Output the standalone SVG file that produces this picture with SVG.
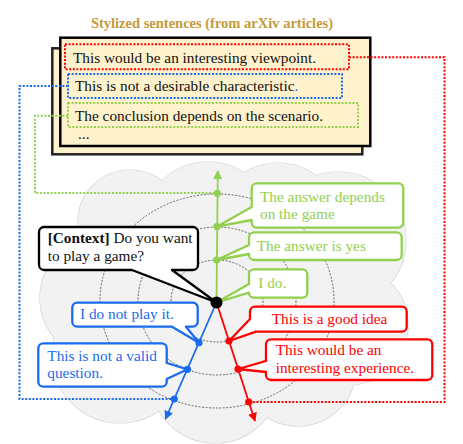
<svg xmlns="http://www.w3.org/2000/svg" xmlns:xlink="http://www.w3.org/1999/xlink" width="463" height="444" viewBox="0 0 463 444">
<style>
text{font-family:"Liberation Serif","Times New Roman",serif;font-size:15.3px}
.title{font-weight:bold;fill:#c49a3a;font-size:14.5px}
.card{fill:#fff2cc;stroke-width:2.5}
.dot{fill:none;stroke-width:2;stroke-dasharray:2 1.6}
.ell{fill:none;stroke:#555;stroke-width:0.9;stroke-dasharray:2 1.5}
.co{fill:#fff;stroke-width:2.3;stroke-linejoin:round}
.g{stroke:#92d050}.gt{fill:#92d050}
.b{stroke:#1a6bf0}.bt{fill:#1a6bf0}
.r{stroke:#ff0000}.rt{fill:#ff0000}
.k{stroke:#000}.kt{fill:#111}
.ax{fill:none;stroke-width:1.8}
</style>
<defs>
<g id="cloudShapes">
<circle cx="130" cy="222" r="52"/>
<circle cx="208" cy="228" r="66"/>
<circle cx="278" cy="226" r="63"/>
<circle cx="338" cy="240" r="68"/>
<circle cx="348" cy="325" r="60"/>
<circle cx="298" cy="368" r="58"/>
<circle cx="215" cy="378" r="65"/>
<circle cx="120" cy="355" r="68"/>
<circle cx="102" cy="298" r="62"/>
<circle cx="220" cy="300" r="100"/>
</g>
<marker id="ahG" viewBox="0 0 10 10" refX="9" refY="5" markerWidth="9" markerHeight="9" markerUnits="userSpaceOnUse" orient="auto"><path d="M0,0 L10,5 L0,10 Z" fill="#92d050"/></marker>
<marker id="ahB" viewBox="0 0 10 10" refX="9" refY="5" markerWidth="9" markerHeight="9" markerUnits="userSpaceOnUse" orient="auto"><path d="M0,0 L10,5 L0,10 Z" fill="#1a6bf0"/></marker>
<marker id="ahR" viewBox="0 0 10 10" refX="9" refY="5" markerWidth="9" markerHeight="9" markerUnits="userSpaceOnUse" orient="auto"><path d="M0,0 L10,5 L0,10 Z" fill="#ff0000"/></marker>
</defs>

<g id="cloud">
<use xlink:href="#cloudShapes" href="#cloudShapes" fill="none" stroke="#d4d4d4" stroke-width="1.2"/>
<use xlink:href="#cloudShapes" href="#cloudShapes" fill="#f2f2f2" stroke="none"/>
</g>

<g id="rings">
<ellipse class="ell" cx="217" cy="301" rx="46" ry="41"/>
<ellipse class="ell" cx="217" cy="301" rx="79" ry="74"/>
<ellipse class="ell" cx="217" cy="301" rx="117" ry="107"/>
</g>

<g id="title"><text class="title" x="212" y="27.5" text-anchor="middle">Stylized sentences (from arXiv articles)</text></g>

<g id="cards">
<rect class="card" x="52.3" y="48.3" width="310" height="106" stroke="#222"/>
<rect class="card" x="60.3" y="37.7" width="310" height="108.3" stroke="#000"/>
<g id="sentence-red">
<rect class="dot r" x="65" y="44.3" width="284" height="25"/>
<text x="73" y="63.3" class="kt">This would be an interesting viewpoint.</text>
</g>
<g id="sentence-blue">
<rect class="dot b" x="68" y="74" width="274" height="24"/>
<text x="75" y="91" class="kt">This is not a desirable characteristic<tspan class="bt">.</tspan></text>
</g>
<g id="sentence-green">
<rect class="dot g" x="68" y="103" width="290" height="24"/>
<text x="75" y="120.7" class="kt">The conclusion depends on the scenario.</text>
</g>
<text x="78" y="138.5" class="kt" font-size="14px">...</text>
</g>

<g id="connectors">
<path class="dot r" d="M349,57.3 H444.5 V402 H249"/>
<path class="dot b" d="M68,86 H19.5 V399 H174"/>
<path class="dot g" d="M68,115.7 H35 V193 H217"/>
<path class="ax g" d="M216.5,302.5 L217.8,171" marker-end="url(#ahG)"/>
<path class="ax b" d="M216.5,302.5 L165.5,419" marker-end="url(#ahB)"/>
<path class="ax r" d="M216.5,302.5 L255,421" marker-end="url(#ahR)"/>
</g>

<g id="context">
<path class="co k" d="M44,227 H193 A5,5 0 0 1 198,232 V265 A5,5 0 0 1 193,270 H172 L216.5,302.5 L132,270 H44 A5,5 0 0 1 39,265 V232 A5,5 0 0 1 44,227 Z"/>
<text x="47.7" y="243.3" class="kt"><tspan font-weight="bold">[Context]</tspan> Do you want</text>
<text x="47.7" y="260.5" class="kt">to play a game?</text>
</g>

<g id="g1">
<path class="co g" d="M256.7,183.3 H398.3 A5,5 0 0 1 403.3,188.3 V222.7 A5,5 0 0 1 398.3,227.7 H256.7 A5,5 0 0 1 251.7,222.7 V220 L216.8,226.7 L251.7,207 V188.3 A5,5 0 0 1 256.7,183.3 Z"/>
<text x="260" y="201.7" class="gt">The answer depends</text>
<text x="260" y="219.3" class="gt">on the game</text>
</g>
<g id="g2">
<path class="co g" d="M254,232.3 H396.7 A5,5 0 0 1 401.7,237.3 V255 A5,5 0 0 1 396.7,260 H254 A5,5 0 0 1 249,255 V254 L216.6,260 L249,245 V237.3 A5,5 0 0 1 254,232.3 Z"/>
<text x="256.7" y="250.7" class="gt">The answer is yes</text>
</g>
<g id="g3">
<path class="co g" d="M254,269.3 H302.3 A5,5 0 0 1 307.3,274.3 V292.7 A5,5 0 0 1 302.3,297.7 H254 A5,5 0 0 1 249,292.7 L216.5,302.5 L249,284 V274.3 A5,5 0 0 1 254,269.3 Z"/>
<text x="258.3" y="288.3" class="gt">I do.</text>
</g>

<g id="b1">
<path class="co b" d="M77.3,302.7 H192.7 A5,5 0 0 1 197.7,307.7 V321.7 A5,5 0 0 1 192.7,326.7 H186 L199,342.7 L172,326.7 H77.3 A5,5 0 0 1 72.3,321.7 V307.7 A5,5 0 0 1 77.3,302.7 Z"/>
<text x="80" y="319.3" class="bt">I do not play it.</text>
</g>
<g id="b2">
<path class="co b" d="M43.3,343.3 H161.7 A5,5 0 0 1 166.7,348.3 V363 L187.5,369.3 L166.7,379 V381.7 A5,5 0 0 1 161.7,386.7 H43.3 A5,5 0 0 1 38.3,381.7 V348.3 A5,5 0 0 1 43.3,343.3 Z"/>
<text x="47.3" y="361" class="bt">This is not a valid</text>
<text x="47.3" y="378.3" class="bt">question.</text>
</g>

<g id="r1">
<path class="co r" d="M255,306.7 H401.7 A5,5 0 0 1 406.7,311.7 V326.7 A5,5 0 0 1 401.7,331.7 H256 L229,341 L250,319 V311.7 A5,5 0 0 1 255,306.7 Z"/>
<text x="271.7" y="324.3" class="rt">This is a good idea</text>
</g>
<g id="r2">
<path class="co r" d="M271,339.3 H427.3 A5,5 0 0 1 432.3,344.3 V375 A5,5 0 0 1 427.3,380 H271 A5,5 0 0 1 266,375 V372 L238,369 L266,361 V344.3 A5,5 0 0 1 271,339.3 Z"/>
<text x="275.7" y="355" class="rt">This would be an</text>
<text x="275.7" y="372.7" class="rt">interesting experience.</text>
</g>

<g id="points">
<circle cx="217.3" cy="193.3" r="3.6" class="gt"/>
<circle cx="216.9" cy="226.7" r="3.6" class="gt"/>
<circle cx="216.7" cy="260" r="3.6" class="gt"/>
<circle cx="199" cy="342.7" r="3.6" class="bt"/>
<circle cx="187.5" cy="369.3" r="3.6" class="bt"/>
<circle cx="174.3" cy="399" r="3.6" class="bt"/>
<circle cx="229" cy="341" r="3.6" class="rt"/>
<circle cx="238" cy="369" r="3.6" class="rt"/>
<circle cx="248.7" cy="402" r="3.6" class="rt"/>
<circle cx="216.5" cy="302.5" r="6" fill="#000"/>
</g>
</svg>
